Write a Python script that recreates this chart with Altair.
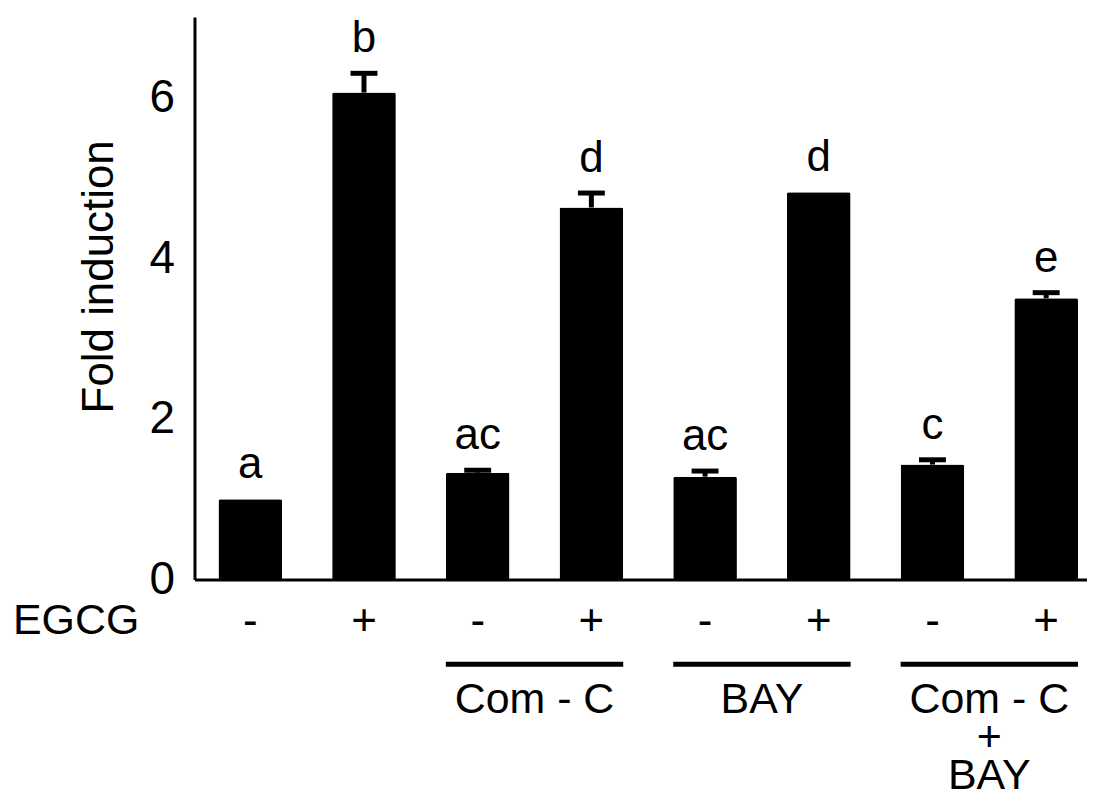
import altair as alt
import pandas as pd

# ---- data ----
conditions = ["Control", "EGCG", "Com-C", "Com-C + EGCG", "BAY", "BAY + EGCG",
              "Com-C + BAY", "Com-C + BAY + EGCG"]
egcg_sign = ["-", "+", "-", "+", "-", "+", "-", "+"]
fold_values = [1.00, 6.06, 1.33, 4.63, 1.28, 4.82, 1.43, 3.50]
fold_errors = [0.00, 0.24, 0.03, 0.18, 0.07, 0.00, 0.06, 0.07]
sig_letters = ["a", "b", "ac", "d", "ac", "d", "c", "e"]

group_labels = ["Com - C", "BAY", "Com - C\n+\nBAY"]
group_start = ["Com-C", "BAY", "Com-C + BAY"]
group_end = ["Com-C + EGCG", "BAY + EGCG", "Com-C + BAY + EGCG"]

y_ticks = [0, 2, 4, 6]

df = pd.DataFrame({
    "cond": conditions,
    "sign": egcg_sign,
    "value": fold_values,
    "err": fold_errors,
    "letter": sig_letters,
})
df["top"] = df["value"] + df["err"]

gdf = pd.DataFrame({"label": group_labels, "start": group_start, "end": group_end})

FONT = "Liberation Sans"
W, H = 895, 564

xscale = alt.Scale(domain=conditions, paddingInner=0.44, paddingOuter=0.145, align=0.727)
yscale = alt.Scale(domain=[0, 7], nice=False, zero=True)

xaxis = alt.Axis(labels=False, ticks=False, title=None, domainWidth=3,
                 domainColor="black", grid=False)
yaxis = alt.Axis(values=y_ticks, format="d", ticks=False, tickSize=0, labelPadding=20,
                 labelFont=FONT, labelFontSize=46, labelColor="black",
                 domainWidth=3, domainColor="black", grid=False,
                 title="Fold induction", titleFont=FONT, titleFontSize=44,
                 titleFontWeight="normal", titleColor="black",
                 titleAngle=270, titleX=-95, titleY=260,
                 titleBaseline="middle", titleAlign="center")

base = alt.Chart(df)

bars = base.mark_bar(color="black", cornerRadius=2).encode(
    x=alt.X("cond:N", scale=xscale, axis=xaxis),
    y=alt.Y("value:Q", scale=yscale, axis=yaxis),
)

err_stem = base.transform_filter("datum.err > 0").mark_rule(color="black", strokeWidth=5).encode(
    x=alt.X("cond:N", scale=xscale),
    y=alt.Y("value:Q", scale=yscale),
    y2="top:Q",
)

err_cap = base.transform_filter("datum.err > 0").mark_tick(color="black", thickness=5, size=27, opacity=1).encode(
    x=alt.X("cond:N", scale=xscale),
    y=alt.Y("top:Q", scale=yscale),
)

letters = base.mark_text(font=FONT, fontSize=44, color="black", baseline="alphabetic", dy=-21).encode(
    x=alt.X("cond:N", scale=xscale),
    y=alt.Y("top:Q", scale=yscale),
    text="letter:N",
)

signs = base.mark_text(font=FONT, fontSize=44, color="black", baseline="middle").encode(
    x=alt.X("cond:N", scale=xscale),
    y=alt.value(H + 43),
    text="sign:N",
)

egcg = alt.Chart(pd.DataFrame({"t": ["EGCG"]})).mark_text(
    font=FONT, fontSize=43, color="black", align="left", baseline="middle"
).encode(x=alt.value(-182), y=alt.value(H + 42), text="t:N")

group_rules = alt.Chart(gdf).mark_rule(color="black", strokeWidth=5).encode(
    x=alt.X("start:N", scale=xscale, bandPosition=0),
    x2=alt.X2("end:N", bandPosition=1),
    y=alt.value(H + 85),
)

group_text = alt.Chart(gdf).mark_text(
    font=FONT, fontSize=43, color="black", baseline="alphabetic", lineBreak="\n",
    lineHeight=38, dx=57
).encode(
    x=alt.X("start:N", scale=xscale),
    y=alt.value(H + 134),
    text="label:N",
)

chart = alt.layer(bars, err_stem, err_cap, letters, signs, egcg, group_rules, group_text).properties(
    width=W, height=H,
    autosize=alt.AutoSizeParams(type="none"),
    padding={"left": 187, "top": 8, "right": 0, "bottom": 216},
).configure(background="white").configure_view(strokeOpacity=0, strokeWidth=0).configure_axis(
    grid=False
)

chart.save("out.html", embed_options={"renderer": "svg", "actions": False})
